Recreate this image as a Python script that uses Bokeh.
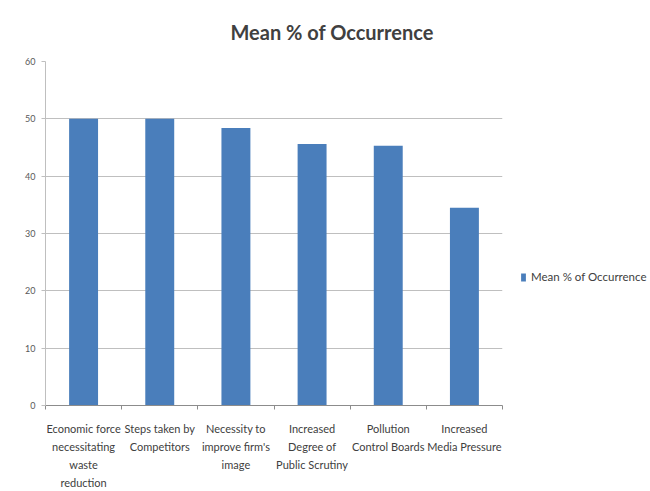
from bokeh.plotting import figure
from bokeh.layouts import row
from bokeh.models import ColumnDataSource, Range1d, FixedTicker, LinearAxis, Legend, LegendItem
from bokeh.embed import file_html
from bokeh.resources import INLINE

# Data
categories = [
    "Economic force necessitating waste reduction",
    "Steps taken by Competitors",
    "Necessity to improve firm's image",
    "Increased Degree of Public Scrutiny",
    "Pollution Control Boards",
    "Increased Media Pressure",
]
tick_label_lines = [
    ["Economic force", "necessitating", "waste", "reduction"],
    ["Steps taken by", "Competitors"],
    ["Necessity to", "improve firm's", "image"],
    ["Increased", "Degree of", "Public Scrutiny"],
    ["Pollution", "Control Boards"],
    ["Increased", "Media Pressure"],
]
mean_pct = [50.0, 50.0, 48.4, 45.6, 45.3, 34.5]
y_ticks = [0, 10, 20, 30, 40, 50, 60]
series_name = "Mean % of Occurrence"

FONT = "Lato"
BAR = "#4a7ebb"
LABEL_COLOR = "#404040"
GRID = "#bfbfbf"

n = len(categories)
positions = list(range(n))
source = ColumnDataSource(dict(x=positions, val=mean_pct, cat=categories))

p = figure(
    width=520, height=491,
    x_range=Range1d(-0.5, n - 0.5),
    y_range=Range1d(0, 60),
    output_backend="svg", toolbar_location=None,
    min_border_left=45, min_border_right=18,
    min_border_top=61, min_border_bottom=0,
    background_fill_color="white", border_fill_color="white",
    outline_line_color=None,
)

bars = p.vbar(x="x", top="val", width=0.38, source=source,
              color=BAR, line_color=None)

# Title
p.title.text = series_name
p.title.text_font = FONT
p.title.text_font_size = "20px"
p.title.text_font_style = "bold"
p.title.text_color = "#404040"
p.title.align = "left"
p.title.offset = 185
p.title.standoff = 35

# Y axis
p.yaxis.ticker = FixedTicker(ticks=y_ticks)
p.yaxis.axis_line_color = GRID
p.yaxis.major_tick_line_color = GRID
p.yaxis.major_tick_out = 4
p.yaxis.major_tick_in = 0
p.yaxis.minor_tick_line_color = None
p.yaxis.major_label_text_font = FONT
p.yaxis.major_label_text_font_size = "9px"
p.yaxis.major_label_text_color = "#595959"
p.yaxis.major_label_standoff = 6

# X axis: the main axis carries the first line of each category label and
# tick marks between categories; extra axes stacked below carry the rest.
n_lines = max(len(l) for l in tick_label_lines)
boundaries = [i - 0.5 for i in range(n + 1)]


def line_of(k):
    return {i: (lines[k] if k < len(lines) else "")
            for i, lines in enumerate(tick_label_lines)}


def style_axis(ax, standoff):
    ax.major_tick_line_color = None
    ax.major_tick_out = 0
    ax.major_tick_in = 0
    ax.major_label_text_font = FONT
    ax.major_label_text_font_size = "11px"
    ax.major_label_text_color = LABEL_COLOR
    ax.major_label_standoff = standoff
    ax.major_label_orientation = "horizontal"


xa = p.xaxis[0]
xa.ticker = FixedTicker(ticks=positions, minor_ticks=boundaries)
xa.axis_line_color = "#8c8c8c"
xa.minor_tick_line_color = "#8c8c8c"
xa.minor_tick_out = 4
xa.minor_tick_in = 0
xa.major_label_overrides = line_of(0)
style_axis(xa, 12)

for k in range(1, n_lines):
    ax = LinearAxis(ticker=FixedTicker(ticks=positions),
                    major_label_overrides=line_of(k), axis_line_color=None,
                    minor_tick_line_color=None)
    style_axis(ax, 2)
    p.add_layout(ax, "below")

# Grid
p.xgrid.grid_line_color = None
p.ygrid.grid_line_color = GRID
p.ygrid.grid_line_width = 1

# Legend panel to the right of the chart
lp = figure(
    width=130, height=491,
    x_range=Range1d(0, 1), y_range=Range1d(0, 1),
    output_backend="svg", toolbar_location=None,
    min_border=0, outline_line_color=None,
    x_axis_type=None, y_axis_type=None,
    background_fill_color="white", border_fill_color="white",
)
lp.grid.grid_line_color = None
# zero-height swatch renderer that only supplies the legend key style
key = lp.vbar(x=[0], top=[0], width=0.1, color=BAR, line_color=None)

leg = Legend(items=[LegendItem(label=series_name, renderers=[key])])
leg.location = (0, 122)
leg.border_line_color = None
leg.background_fill_alpha = 0
leg.padding = 0
leg.margin = 0
leg.glyph_width = 6
leg.glyph_height = 10
leg.label_standoff = 5
leg.label_height = 10
leg.label_text_font = FONT
leg.label_text_font_size = "11.5px"
leg.label_text_color = LABEL_COLOR
lp.add_layout(leg)

layout = row(p, lp)
open("out.html", "w").write(file_html(layout, INLINE))
